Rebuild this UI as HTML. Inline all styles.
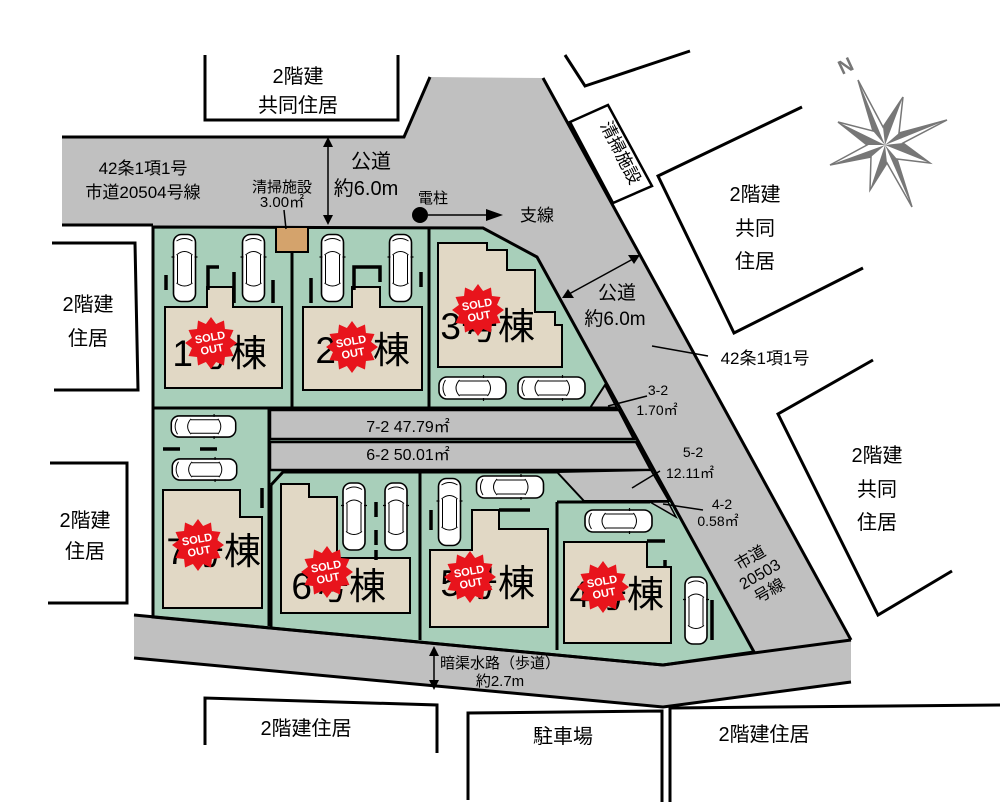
<!DOCTYPE html>
<html><head><meta charset="utf-8"><style>
html,body{margin:0;padding:0;background:#fff;}
svg{display:block;font-family:"Liberation Sans","Noto Sans CJK JP",sans-serif;}
</style></head><body>
<svg width="1000" height="802" viewBox="0 0 1000 802" xmlns="http://www.w3.org/2000/svg">
<defs>
<symbol id="cv" viewBox="0 0 26 70">
<rect x="2" y="1.5" width="22" height="67" rx="8" fill="#fff" stroke="#000" stroke-width="1.6"/>
<path d="M5 22 Q13 15 21 22 M5 50 Q13 56 21 50 M6 22 V50 M20 22 V50 M5 8 Q13 3 21 8" fill="none" stroke="#000" stroke-width="1"/>
<path d="M0 24 h3 M23 24 h3" stroke="#000" stroke-width="1.2"/>
</symbol>
<symbol id="ch" viewBox="0 0 70 26">
<rect x="1.5" y="2" width="67" height="22" rx="8" fill="#fff" stroke="#000" stroke-width="1.6"/>
<path d="M22 5 Q15 13 22 21 M50 5 Q56 13 50 21 M22 6 H50 M22 20 H50 M8 5 Q3 13 8 21" fill="none" stroke="#000" stroke-width="1"/>
<path d="M46 0 v3 M46 23 v3" stroke="#000" stroke-width="1.2"/>
</symbol>
<symbol id="star" viewBox="-26 -26 52 52">
<polygon fill="#e8141c" points="25,0 18.35,4.92 21.65,12.5 13.43,13.43 12.5,21.65 4.92,18.35 0,25 -4.92,18.35 -12.5,21.65 -13.43,13.43 -21.65,12.5 -18.35,4.92 -25,0 -18.35,-4.92 -21.65,-12.5 -13.43,-13.43 -12.5,-21.65 -4.92,-18.35 0,-25 4.92,-18.35 12.5,-21.65 13.43,-13.43 21.65,-12.5 18.35,-4.92"/>
</symbol>
</defs>

<polygon fill="#c0c0c0" points="62,137 404,137 430,77 543,78 851,640 851,682 663,707 134,658 134,615 153,617 153,225 62,225"/>
<polygon fill="#a8cfba" stroke="#000" stroke-width="3" points="153,227 483,228 537,257 754,652 663,665 153,617"/>
<polyline fill="none" stroke="#000" stroke-width="3" points="62,137 404,137 430,77"/>
<line x1="62" y1="225" x2="153" y2="225" stroke="#000" stroke-width="3"/>
<line x1="543" y1="78" x2="851" y2="640" stroke="#000" stroke-width="3"/>
<polyline fill="none" stroke="#000" stroke-width="3" points="134,615 663,665 851,640"/>
<polyline fill="none" stroke="#000" stroke-width="3" points="134,658 663,707 851,682"/>

<polygon fill="#c0c0c0" stroke="#000" stroke-width="2.5" points="270,410 619,410 634,439 270,439"/>
<polygon fill="#c0c0c0" stroke="#000" stroke-width="2.5" points="270,442 636,442 651,470 270,470"/>
<polygon fill="#c0c0c0" stroke="#000" stroke-width="2" points="557,472 651,470 669,501 584,501"/>
<polygon fill="#c0c0c0" stroke="#000" stroke-width="2" points="590,408 605,385 617,408"/>
<polygon fill="#c0c0c0" stroke="#000" stroke-width="1.5" points="650,502 668,502 676,517"/>

<g stroke="#000" stroke-width="3" fill="none">
<line x1="292" y1="228" x2="292" y2="408"/>
<line x1="429" y1="228" x2="429" y2="408"/>
<line x1="153" y1="408" x2="617" y2="408"/>
<line x1="269" y1="408" x2="269" y2="626"/>
<polyline points="271,485 283,472 420,472"/>
<line x1="271" y1="485" x2="271" y2="627"/>
<line x1="420" y1="472" x2="420" y2="640"/>
<line x1="420" y1="472" x2="557" y2="472"/>
<line x1="557" y1="502" x2="557" y2="650"/>
<line x1="557" y1="502" x2="650" y2="502"/>
</g>

<rect x="276" y="227" width="32" height="25" fill="#d4a36c" stroke="#000" stroke-width="2"/>

<g fill="#e1d8c5" stroke="#000" stroke-width="2">
<polygon points="165,307 207,307 207,287 233,287 233,307 282,307 282,388 165,388"/>
<polygon points="303,307 352,307 352,287 380,287 380,307 422,307 422,390 303,390"/>
<polygon points="438,243 487,243 487,250 507,250 507,270 535,270 535,312 555,312 555,325 562,325 562,367 438,367"/>
<polygon points="163,490 240,490 240,517 262,517 262,608 163,608"/>
<polygon points="281,484 309,484 309,497 337,497 337,558 410,558 410,613 281,613"/>
<polygon points="472,510 499,510 499,529 548,529 548,627 430,627 430,550 472,550"/>
<polygon points="564,542 647,542 647,567 671,567 671,643 564,643"/>
</g>

<g stroke="#000" stroke-width="3.5" fill="none">
<line x1="166" y1="275" x2="166" y2="290"/>
<polyline points="208,290 208,267 219,267"/>
<line x1="234" y1="272" x2="234" y2="303"/>
<line x1="273" y1="280" x2="273" y2="303"/>
<line x1="311" y1="278" x2="311" y2="303"/>
<polyline points="354,290 354,267 380,267 380,282"/>
<line x1="421" y1="272" x2="421" y2="287"/>
<line x1="163" y1="449" x2="180" y2="449"/>
<line x1="200" y1="449" x2="217" y2="449"/>
<line x1="262" y1="488" x2="262" y2="508"/>
<line x1="376" y1="502" x2="376" y2="517"/>
<line x1="376" y1="530" x2="376" y2="545"/>
<line x1="376" y1="550" x2="376" y2="560"/>
<line x1="431" y1="510" x2="431" y2="530"/>
<line x1="499" y1="510" x2="530" y2="510"/>
<line x1="647" y1="541" x2="665" y2="541"/>
<line x1="665" y1="560" x2="665" y2="567"/>
<line x1="712" y1="600" x2="712" y2="640"/>
</g>

<use href="#cv" x="171" y="233" width="27" height="70"/>
<use href="#cv" x="240" y="233" width="27" height="70"/>
<use href="#cv" x="319" y="233" width="27" height="70"/>
<use href="#cv" x="387" y="233" width="27" height="70"/>
<use href="#ch" x="437" y="375" width="71" height="26"/>
<use href="#ch" x="516" y="375" width="71" height="26"/>
<use href="#ch" x="167" y="414" width="73" height="25"/>
<use href="#ch" x="168" y="457" width="73" height="25"/>
<use href="#cv" x="341" y="480" width="26" height="73"/>
<use href="#cv" x="383" y="480" width="26" height="73"/>
<use href="#cv" x="436" y="477" width="27" height="70"/>
<use href="#ch" x="474" y="474" width="72" height="26"/>
<use href="#ch" x="582" y="508" width="73" height="26"/>
<use href="#cv" x="683" y="575" width="26" height="71"/>

<g font-size="37" fill="#000" text-anchor="end">
<text x="267" y="366">1号棟</text>
<text x="410" y="363">2号棟</text>
<text x="535" y="339">3号棟</text>
<text x="261" y="564">7号棟</text>
<text x="386" y="599">6号棟</text>
<text x="535" y="596">5号棟</text>
<text x="664" y="607">4号棟</text>
</g>

<g font-size="11" font-weight="bold" fill="#fff" text-anchor="middle">
<g transform="translate(211,343)"><use href="#star" x="-27" y="-27" width="54" height="54"/><g transform="rotate(-10)"><text y="-2">SOLD</text><text y="10">OUT</text></g></g>
<g transform="translate(352,347)"><use href="#star" x="-27" y="-27" width="54" height="54"/><g transform="rotate(-10)"><text y="-2">SOLD</text><text y="10">OUT</text></g></g>
<g transform="translate(478,310)"><use href="#star" x="-27" y="-27" width="54" height="54"/><g transform="rotate(-10)"><text y="-2">SOLD</text><text y="10">OUT</text></g></g>
<g transform="translate(198,545)"><use href="#star" x="-27" y="-27" width="54" height="54"/><g transform="rotate(-10)"><text y="-2">SOLD</text><text y="10">OUT</text></g></g>
<g transform="translate(327,572)"><use href="#star" x="-27" y="-27" width="54" height="54"/><g transform="rotate(-10)"><text y="-2">SOLD</text><text y="10">OUT</text></g></g>
<g transform="translate(470,577)"><use href="#star" x="-27" y="-27" width="54" height="54"/><g transform="rotate(-10)"><text y="-2">SOLD</text><text y="10">OUT</text></g></g>
<g transform="translate(603,587)"><use href="#star" x="-27" y="-27" width="54" height="54"/><g transform="rotate(-10)"><text y="-2">SOLD</text><text y="10">OUT</text></g></g>
</g>

<g fill="none" stroke="#000" stroke-width="3">
<polyline points="205,55 205,120 398,120 398,55"/>
<polyline points="52,243 135,243 138,390 54,390"/>
<polyline points="50,463 127,463 127,603 48,603"/>
<polyline points="205,745 205,698 437,705 437,753"/>
<polyline points="468,800 468,713 662,711 662,802"/>
<polyline points="670,802 670,708 1000,705"/>
<polyline points="565,55 585,86 690,51"/>
<polyline points="802,107 658,176 734,333 863,268"/>
<polyline points="873,360 778,414 878,615 952,571"/>
</g>
<polygon points="570,122 608,105 652,186 613,203" fill="#fff" stroke="#000" stroke-width="2.5"/>
<text transform="translate(600,125) rotate(63)" font-size="17">清掃施設</text>

<!-- compass -->
<polygon fill="#777" points="858,80 883,127 903,97 899,133 947,120 903,143 930,163 897,159 912,207 887,163 870,190 871,157 830,165 867,145 838,122 873,131"/>
<g fill="#fff">
<polygon points="858,80 885,145 883,127"/>
<polygon points="947,120 885,145 903,143"/>
<polygon points="912,207 885,145 887,163"/>
<polygon points="830,165 885,145 867,145"/>
<polygon points="903,97 885,145 899,133"/>
<polygon points="930,163 885,145 897,159"/>
<polygon points="870,190 885,145 871,157"/>
<polygon points="838,122 885,145 873,131"/>
</g>
<polygon fill="none" stroke="#777" stroke-width="1.5" points="858,80 883,127 903,97 899,133 947,120 903,143 930,163 897,159 912,207 887,163 870,190 871,157 830,165 867,145 838,122 873,131"/>
<text transform="translate(842,75) rotate(-25)" font-size="20" font-weight="bold" fill="#777">N</text>

<g stroke="#000" stroke-width="1.5" fill="none">
<line x1="328" y1="143" x2="328" y2="219"/>
<line x1="284" y1="210" x2="286" y2="229"/>
<line x1="428" y1="215" x2="488" y2="215"/>
<line x1="569" y1="294" x2="633" y2="259"/>
<line x1="652" y1="346" x2="708" y2="356"/>
<line x1="608" y1="406" x2="647" y2="396"/>
<line x1="632" y1="488" x2="660" y2="471"/>
<line x1="663" y1="504" x2="703" y2="510"/>
<line x1="434" y1="652" x2="434" y2="684"/>
</g>
<g fill="#000">
<polygon points="328,137 323,147 333,147"/>
<polygon points="328,225 323,215 333,215"/>
<circle cx="420" cy="215" r="8"/>
<polygon points="503,215 486,209 486,221"/>
<polygon points="562,298 574,298 568,289"/>
<polygon points="640,255 628,255 634,264"/>
<polygon points="434,646 429,656 439,656"/>
<polygon points="434,690 429,680 439,680"/>
</g>

<g font-size="17" fill="#000" text-anchor="middle">
<text x="298" y="83" font-size="20">2階建</text>
<text x="298" y="112" font-size="20">共同住居</text>
<text x="143" y="174">42条1項1号</text>
<text x="143" y="198">市道20504号線</text>
<text x="282" y="192" font-size="15">清掃施設</text>
<text x="282" y="207" font-size="15">3.00㎡</text>
<text x="371" y="168" font-size="20">公道</text>
<text x="366" y="195" font-size="20">約6.0m</text>
<text x="433" y="203" font-size="15">電柱</text>
<text x="537" y="221">支線</text>
<text x="617" y="299" font-size="19">公道</text>
<text x="615" y="325" font-size="19">約6.0m</text>
<text x="765" y="364">42条1項1号</text>
<text x="658" y="395" font-size="14">3-2</text>
<text x="657" y="415" font-size="14">1.70㎡</text>
<text x="693" y="457" font-size="14">5-2</text>
<text x="690" y="478" font-size="14">12.11㎡</text>
<text x="722" y="509" font-size="14">4-2</text>
<text x="718" y="526" font-size="14">0.58㎡</text>
<g transform="translate(762,578) rotate(-30)" font-size="16"><text y="-18">市道</text><text y="1">20503</text><text y="20">号線</text></g>
<text x="408" y="432" font-size="16">7-2  47.79㎡</text>
<text x="408" y="460" font-size="16">6-2  50.01㎡</text>
<text x="500" y="668" font-size="15">暗渠水路（歩道）</text>
<text x="500" y="686" font-size="15">約2.7m</text>
<text x="755" y="201" font-size="20">2階建</text>
<text x="755" y="235" font-size="20">共同</text>
<text x="755" y="268" font-size="20">住居</text>
<text x="877" y="462" font-size="20">2階建</text>
<text x="877" y="496" font-size="20">共同</text>
<text x="877" y="529" font-size="20">住居</text>
<text x="88" y="311" font-size="20">2階建</text>
<text x="88" y="345" font-size="20">住居</text>
<text x="85" y="527" font-size="20">2階建</text>
<text x="85" y="558" font-size="20">住居</text>
<text x="306" y="735" font-size="20">2階建住居</text>
<text x="563" y="743" font-size="20">駐車場</text>
<text x="764" y="741" font-size="20">2階建住居</text>
</g>
</svg>
</body></html>
